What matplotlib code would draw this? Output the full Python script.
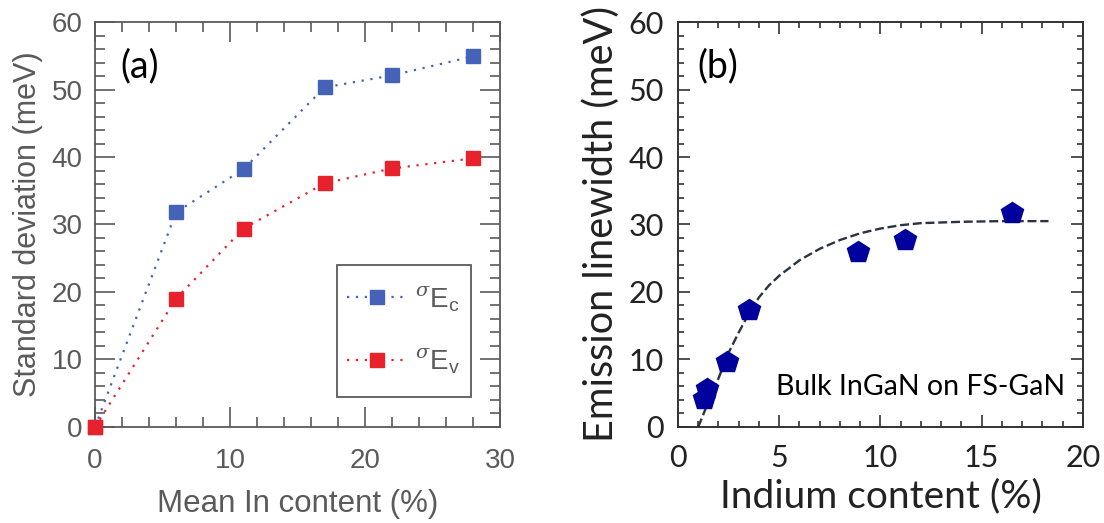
import matplotlib
matplotlib.use("Agg")
import matplotlib.pyplot as plt
from matplotlib.patches import Rectangle
from matplotlib.ticker import MultipleLocator

# ---- data: panel (a), potential fluctuations vs mean In content ----
in_content = [0, 6, 11, 17, 22, 28]
sigma_ec = [0, 31.8, 38.2, 50.3, 52.1, 54.9]
sigma_ev = [0, 19.0, 29.4, 36.1, 38.3, 39.8]

# ---- data: panel (b), emission linewidth of bulk InGaN ----
indium = [1.3, 1.45, 2.4, 3.5, 8.9, 11.2, 16.5]
linewidth = [4.1, 5.6, 9.6, 17.4, 25.9, 27.7, 31.7]

# saturating fit through the linewidth data
fit_x = [1.0, 1.5, 2.0, 2.5, 3.0, 3.5, 4.0, 4.5, 5.0, 6.0, 7.0, 8.0, 9.0,
         10.0, 11.0, 12.0, 14.0, 16.0, 18.3]
fit_y = [0.0, 3.7, 7.2, 11.0, 14.0, 16.8, 19.2, 21.0, 22.4, 24.7, 26.4, 27.7,
         28.7, 29.4, 29.9, 30.2, 30.4, 30.5, 30.5]

GRAY = "#5a5a5a"
BLUE = "#4563b6"
RED = "#e8222c"
NAVY = "#00009c"
DARK = "#222222"

plt.rcParams["mathtext.fontset"] = "custom"
plt.rcParams["mathtext.rm"] = "Liberation Sans"
plt.rcParams["mathtext.it"] = "DejaVu Serif:italic"

fig = plt.figure(figsize=(11.04, 5.23), dpi=100)
ax_a = fig.add_axes([0.0861, 0.1836, 0.3668, 0.7743])
ax_b = fig.add_axes([0.6141, 0.1836, 0.3668, 0.7743])

# ---------------- panel (a) ----------------
dot = (0, (1, 3))
ax_a.plot(in_content, sigma_ec, linestyle=dot, lw=1.6, color=BLUE,
          marker="s", ms=10.5, mec=BLUE, mfc=BLUE, clip_on=False, zorder=3,
          label=r"${}^{\sigma}\mathrm{E}_{\mathrm{c}}$")
ax_a.plot(in_content, sigma_ev, linestyle=dot, lw=1.6, color=RED,
          marker="s", ms=10.5, mec=RED, mfc=RED, clip_on=False, zorder=4,
          label=r"${}^{\sigma}\mathrm{E}_{\mathrm{v}}$")

ax_a.set_xlim(0, 30)
ax_a.set_ylim(0, 60)
ax_a.xaxis.set_major_locator(MultipleLocator(10))
ax_a.xaxis.set_minor_locator(MultipleLocator(2))
ax_a.yaxis.set_major_locator(MultipleLocator(10))
ax_a.yaxis.set_minor_locator(MultipleLocator(2))
ax_a.tick_params(which="both", direction="in", top=True, right=True,
                 color=GRAY, width=1.2, labelcolor=GRAY, labelsize=20,
                 labelfontfamily="Liberation Sans")
ax_a.tick_params(which="major", length=14.5)
ax_a.tick_params(which="minor", length=7.5)
ax_a.tick_params(axis="x", which="major", pad=15)
ax_a.tick_params(axis="y", which="major", pad=9)
for s in ax_a.spines.values():
    s.set_color(GRAY)
    s.set_linewidth(1.3)
ax_a.set_xlabel("Mean In content (%)", fontsize=22.5, color=GRAY,
                family="Liberation Sans", labelpad=11)
ax_a.set_ylabel("Standard deviation (meV)", fontsize=22, color=GRAY,
                family="Liberation Sans", labelpad=6)
ax_a.text(0.062, 0.935, "(a)", transform=ax_a.transAxes, fontsize=27,
          family="Lato", color="black", va="top", ha="left")

# legend entries without their own frame; the box is drawn separately
leg = ax_a.legend(loc="upper left", bbox_to_anchor=(0.622, 0.353),
                  fontsize=20, handlelength=2.2, handletextpad=0.25,
                  labelspacing=1.2, borderpad=0.0, borderaxespad=0,
                  frameon=False)
for t in leg.get_texts():
    t.set_color(GRAY)
ax_a.add_patch(Rectangle((0.5975, 0.074), 0.3309, 0.326,
                         transform=ax_a.transAxes, fill=False,
                         edgecolor=GRAY, linewidth=1.3, zorder=5))

# ---------------- panel (b) ----------------
ax_b.plot(fit_x, fit_y, linestyle=(0, (3.8, 1.6)), lw=1.7, color="#2b3240",
          zorder=2)
ax_b.plot(indium, linewidth, linestyle="none", marker="p", ms=16.5,
          mfc=NAVY, mec=NAVY, zorder=3)

ax_b.set_xlim(0, 20)
ax_b.set_ylim(0, 60)
ax_b.xaxis.set_major_locator(MultipleLocator(5))
ax_b.xaxis.set_minor_locator(MultipleLocator(1))
ax_b.yaxis.set_major_locator(MultipleLocator(10))
ax_b.yaxis.set_minor_locator(MultipleLocator(2))
ax_b.tick_params(which="both", direction="in", top=True, right=True,
                 color="#333333", width=1.2, labelcolor=DARK, labelsize=22,
                 labelfontfamily="Lato")
ax_b.tick_params(which="major", length=8.5)
ax_b.tick_params(which="minor", length=4.5)
ax_b.tick_params(axis="x", which="major", pad=12)
ax_b.tick_params(axis="y", which="major", pad=10)
for s in ax_b.spines.values():
    s.set_color("#333333")
    s.set_linewidth(1.4)
ax_b.set_xlabel("Indium content (%)", fontsize=28, color=DARK,
                family="Lato", labelpad=5)
ax_b.set_ylabel("Emission linewidth (meV)", fontsize=28.5, color=DARK,
                family="Lato", labelpad=6)
ax_b.text(0.047, 0.935, "(b)", transform=ax_b.transAxes, fontsize=27,
          family="Lato", color="black", va="top", ha="left")
ax_b.text(0.955, 0.08, "Bulk InGaN on FS-GaN", transform=ax_b.transAxes,
          fontsize=20.5, family="Lato", color="black", ha="right",
          va="baseline")

fig.savefig("out.png", dpi=100)
